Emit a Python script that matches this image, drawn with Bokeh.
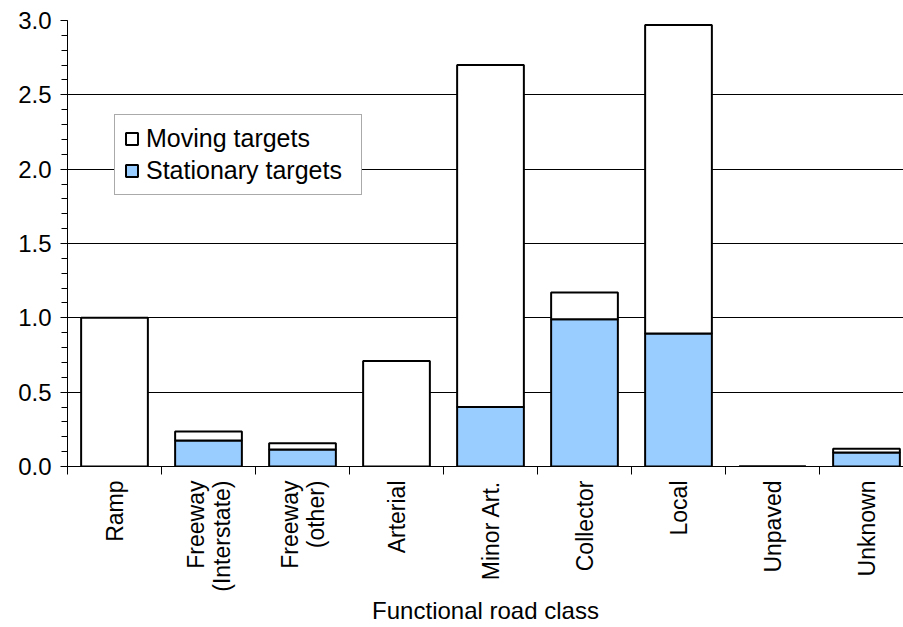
import math
from bokeh.plotting import figure
from bokeh.models import (ColumnDataSource, FixedTicker, Range1d, Legend, LegendItem,
                          PrintfTickFormatter)
from bokeh.embed import file_html
from bokeh.resources import INLINE

# ---- data ----
categories = ["Ramp", "Freeway\n(Interstate)", "Freeway\n(other)", "Arterial",
              "Minor Art.", "Collector", "Local", "Unpaved", "Unknown"]
stationary = [0.0, 0.175, 0.115, 0.0, 0.40, 0.99, 0.895, 0.0, 0.095]
moving = [1.0, 0.06, 0.042, 0.71, 2.30, 0.18, 2.075, 0.0, 0.025]
y_ticks = [0.0, 0.5, 1.0, 1.5, 2.0, 2.5, 3.0]
x_title = "Functional road class"

FONT = "Liberation Sans"

xs = [i + 0.5 for i in range(len(categories))]
source = ColumnDataSource(dict(x=xs, stationary=stationary, moving=moving))

p = figure(width=903, height=627, output_backend="svg", toolbar_location=None,
           x_range=Range1d(0, 836 / 94), y_range=Range1d(0, 3.0),
           min_border_left=67, min_border_right=0, min_border_top=20,
           min_border_bottom=161)
p.outline_line_color = None
p.background_fill_color = "white"
p.border_fill_color = "white"

rs = p.vbar_stack(["stationary", "moving"], x="x", width=0.71, source=source,
                  fill_color=["#99CCFF", "#FFFFFF"], line_color="black", line_width=2)

# grid
p.xgrid.visible = False
p.ygrid.ticker = FixedTicker(ticks=y_ticks)
p.ygrid.grid_line_color = "black"
p.ygrid.grid_line_width = 1

# y axis
ya = p.yaxis[0]
ya.ticker = FixedTicker(ticks=y_ticks, minor_ticks=[i / 10 for i in range(31)])
ya.major_tick_in = 0
ya.major_tick_out = 7
ya.minor_tick_in = 0
ya.minor_tick_out = 6
ya.axis_line_color = "black"
ya.major_tick_line_color = "black"
ya.minor_tick_line_color = "black"
ya.major_label_standoff = 9
ya.major_label_text_font = FONT
ya.major_label_text_font_size = "24px"
ya.major_label_text_color = "black"
ya.formatter = PrintfTickFormatter(format="%.1f")

# x axis
xa = p.xaxis[0]
xa.ticker = FixedTicker(ticks=xs, minor_ticks=list(range(len(categories))))
xa.major_label_overrides = {x: c for x, c in zip(xs, categories)}
xa.major_tick_line_color = None
xa.minor_tick_in = 0
xa.minor_tick_out = 8
xa.minor_tick_line_color = "black"
xa.axis_line_color = "black"
xa.major_label_orientation = math.pi / 2
xa.major_label_standoff = 6
xa.major_label_text_font = FONT
xa.major_label_text_font_size = "23px"
xa.major_label_text_color = "black"
xa.major_label_text_line_height = 1.0
xa.axis_label = x_title
xa.axis_label_text_font = FONT
xa.axis_label_text_font_size = "24px"
xa.axis_label_text_font_style = "normal"
xa.axis_label_text_color = "black"
xa.axis_label_standoff = 2

legend = Legend(items=[LegendItem(label="Moving targets", renderers=[rs[1]]),
                       LegendItem(label="Stationary targets", renderers=[rs[0]])],
                location=(47, 271))
legend.label_text_font = FONT
legend.label_text_font_size = "25px"
legend.label_text_color = "black"
legend.glyph_width = 15
legend.glyph_height = 15
legend.label_standoff = 7
legend.padding = 9
legend.spacing = 3
legend.margin = 0
legend.label_width = 206
legend.border_line_color = "#555555"
legend.border_line_width = 1
legend.background_fill_alpha = 1
p.add_layout(legend, "center")

open("out.html", "w").write(file_html(p, INLINE))
